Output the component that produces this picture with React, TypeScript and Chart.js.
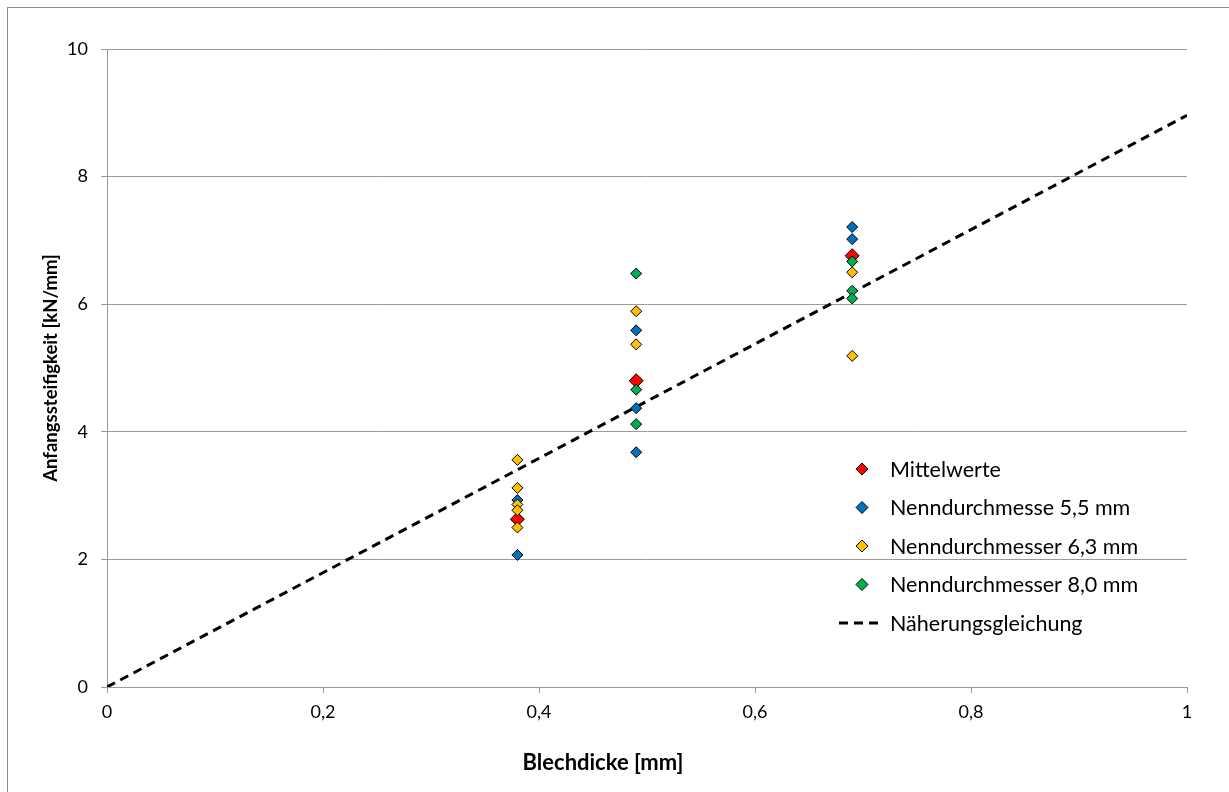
import React, { useEffect, useRef } from "react";
import { Chart, registerables } from "chart.js";

Chart.register(...registerables);

const FONT = "Lato, 'Open Sans', sans-serif";
const GRID = "#9a9a9a";

// ---- data ----
const meanX = [0.38, 0.49, 0.69];
const meanY = [2.63, 4.8, 6.76];

const d55X = [0.38, 0.38, 0.49, 0.49, 0.49, 0.69, 0.69];
const d55Y = [2.93, 2.07, 5.59, 4.37, 3.68, 7.21, 7.02];

const d63X = [0.38, 0.38, 0.38, 0.38, 0.38, 0.49, 0.49, 0.69, 0.69];
const d63Y = [3.56, 3.12, 2.86, 2.77, 2.5, 5.89, 5.37, 6.5, 5.19];

const d80X = [0.49, 0.49, 0.49, 0.69, 0.69, 0.69];
const d80Y = [6.48, 4.66, 4.12, 6.67, 6.21, 6.09];

const approxX = [0, 1];
const approxY = [0, 8.96];

const xTickLabels = ["0", "0,2", "0,4", "0,6", "0,8", "1"];
const yTickLabels = ["0", "2", "4", "6", "8", "10"];

const xTitle = "Blechdicke [mm]";
const yTitle = "Anfangssteifigkeit [kN/mm]";

const seriesLabels = [
  "Mittelwerte",
  "Nenndurchmesse 5,5 mm",
  "Nenndurchmesser 6,3 mm",
  "Nenndurchmesser 8,0 mm",
  "Näherungsgleichung",
];
const seriesColors = ["#FF0000", "#0070C0", "#FFC000", "#00B050", "#000000"];

const toPts = (xs: number[], ys: number[]) => xs.map((x, i) => ({ x, y: ys[i] }));

const framePlugin = {
  id: "frame",
  beforeDraw(chart: any) {
    const ctx = chart.ctx;
    ctx.save();
    ctx.fillStyle = "#ffffff";
    ctx.fillRect(0, 0, chart.width, chart.height);
    ctx.strokeStyle = "#8c8c8c";
    ctx.lineWidth = 1;
    ctx.strokeRect(7.5, 7.5, chart.width + 20, chart.height + 20);
    ctx.restore();
  },
  afterDraw(chart: any) {
    const ctx = chart.ctx;
    ctx.save();
    ctx.font = `bold 22px ${FONT}`;
    ctx.fillStyle = "#000";
    ctx.textAlign = "center";
    ctx.textBaseline = "middle";
    ctx.fillText(xTitle, 603, 763);
    ctx.restore();
  },
};

const legendPlugin = {
  id: "customLegend",
  afterDraw(chart: any) {
    const ctx = chart.ctx;
    const markerX = 862;
    const textX = 890;
    const rowY0 = 469;
    const rowStep = 38.5;
    ctx.save();
    ctx.font = `21.5px ${FONT}`;
    ctx.textBaseline = "middle";
    ctx.textAlign = "left";
    seriesLabels.forEach((label, i) => {
      const y = rowY0 + i * rowStep;
      if (i < 4) {
        const r = 6;
        ctx.beginPath();
        ctx.moveTo(markerX - r, y);
        ctx.lineTo(markerX, y - r);
        ctx.lineTo(markerX + r, y);
        ctx.lineTo(markerX, y + r);
        ctx.closePath();
        ctx.fillStyle = seriesColors[i];
        ctx.fill();
        ctx.strokeStyle = "#000";
        ctx.lineWidth = 1;
        ctx.stroke();
      } else {
        ctx.beginPath();
        ctx.setLineDash([9, 6]);
        ctx.lineWidth = 3;
        ctx.strokeStyle = "#000";
        ctx.moveTo(839, y);
        ctx.lineTo(881, y);
        ctx.stroke();
        ctx.setLineDash([]);
      }
      ctx.fillStyle = "#000";
      ctx.fillText(label, textX, y + 1);
    });
    ctx.restore();
  },
};

export default function App() {
  const ref = useRef<HTMLCanvasElement>(null);

  useEffect(() => {
    if (!ref.current) return;
    const markerBase = {
      showLine: false,
      pointStyle: "rectRot",
      pointBorderColor: "#000",
      pointBorderWidth: 1,
    };
    const chart = new Chart(ref.current, {
      type: "scatter",
      data: {
        datasets: [
          {
            ...markerBase,
            label: seriesLabels[0],
            data: toPts(meanX, meanY),
            backgroundColor: seriesColors[0],
            pointBackgroundColor: seriesColors[0],
            pointRadius: 7,
            order: 5,
          },
          {
            ...markerBase,
            label: seriesLabels[1],
            data: toPts(d55X, d55Y),
            backgroundColor: seriesColors[1],
            pointBackgroundColor: seriesColors[1],
            pointRadius: 5.5,
            order: 4,
          },
          {
            ...markerBase,
            label: seriesLabels[2],
            data: toPts(d63X, d63Y),
            backgroundColor: seriesColors[2],
            pointBackgroundColor: seriesColors[2],
            pointRadius: 5.5,
            order: 3,
          },
          {
            ...markerBase,
            label: seriesLabels[3],
            data: toPts(d80X, d80Y),
            backgroundColor: seriesColors[3],
            pointBackgroundColor: seriesColors[3],
            pointRadius: 5.5,
            order: 2,
          },
          {
            label: seriesLabels[4],
            data: toPts(approxX, approxY),
            showLine: true,
            borderColor: "#000",
            borderWidth: 3,
            borderDash: [9, 6],
            pointRadius: 0,
            order: 6,
          },
        ] as any,
      },
      options: {
        responsive: false,
        animation: false,
        layout: { padding: { left: 7, top: 49, right: 42, bottom: 7 } },
        plugins: {
          legend: { display: false },
          tooltip: { enabled: false },
        },
        scales: {
          x: {
            type: "linear",
            min: 0,
            max: 1,
            ticks: {
              stepSize: 0.2,
              padding: 8,
              color: "#000",
              font: { family: FONT, size: 18 },
              callback: (_v: any, i: number) => xTickLabels[i],
            },
            grid: {
              drawOnChartArea: false,
              drawTicks: true,
              tickLength: 6,
              color: GRID,
            },
            border: { display: true, color: GRID, width: 1 },
            title: { display: false },
            afterFit: (s: any) => {
              s.height = 98;
            },
          },
          y: {
            type: "linear",
            min: 0,
            max: 10,
            ticks: {
              stepSize: 2,
              padding: 13,
              color: "#000",
              font: { family: FONT, size: 18 },
              callback: (_v: any, i: number) => yTickLabels[i],
            },
            grid: { color: GRID, tickLength: 6 },
            border: { display: true, color: GRID, width: 1 },
            title: {
              display: true,
              text: yTitle,
              color: "#000",
              font: { family: FONT, size: 18.5, weight: "bold" },
              padding: { top: 33, bottom: 0 },
            },
            afterFit: (s: any) => {
              s.width = 100;
            },
          },
        },
      } as any,
      plugins: [framePlugin, legendPlugin],
    });
    return () => chart.destroy();
  }, []);

  return (
    <div style={{ position: "fixed", left: 0, top: 0, width: 1229, height: 792, background: "#fff" }}>
      <canvas ref={ref} width={1229} height={792} style={{ display: "block" }} />
    </div>
  );
}
